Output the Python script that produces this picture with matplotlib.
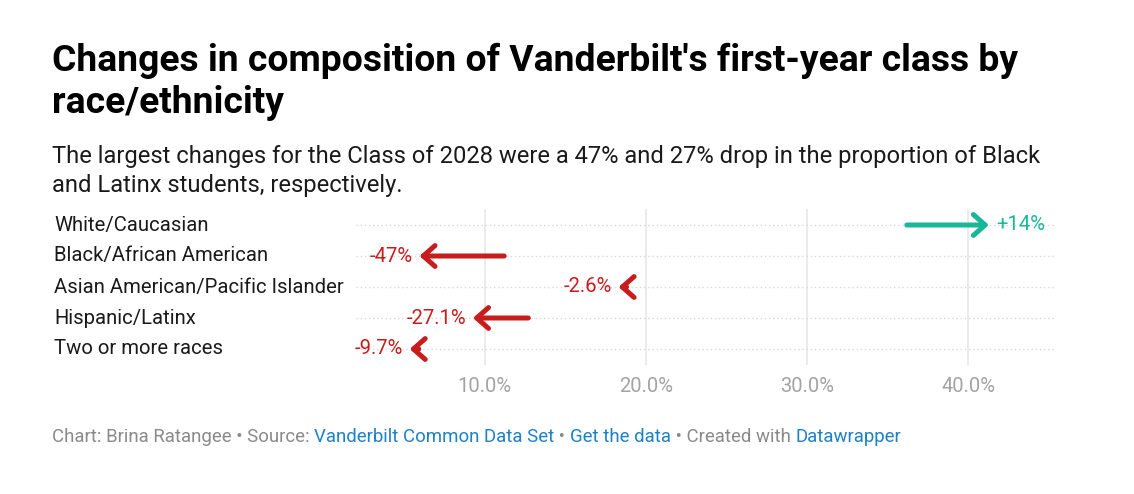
import matplotlib
matplotlib.use("Agg")
import matplotlib.pyplot as plt

categories = ["White/Caucasian", "Black/African American", "Asian American/Pacific Islander",
              "Hispanic/Latinx", "Two or more races"]
start_vals = [36.2, 11.2, 18.8, 12.7, 5.9]
end_vals = [41.3, 5.94, 18.3, 9.26, 5.33]
change_labels = ["+14%", "-47%", "-2.6%", "-27.1%", "-9.7%"]
xticks = [10, 20, 30, 40]
xtick_labels = ["10.0%", "20.0%", "30.0%", "40.0%"]

plt.rcParams['font.family'] = ['Roboto', 'DejaVu Sans']

W, H = 1134, 494
fig = plt.figure(figsize=(W / 100, H / 100), dpi=100)
fig.patch.set_facecolor("white")

def fy(px):
    return 1 - px / H

def fx(px):
    return px / W

UP = "#18b797"
DOWN = "#c71e1d"

fig.text(fx(52), fy(61), "Changes in composition of Vanderbilt's first-year class by",
         fontsize=26.8, fontweight="bold", color="#000000", va="center", ha="left")
fig.text(fx(52), fy(103), "race/ethnicity",
         fontsize=26.8, fontweight="bold", color="#000000", va="center", ha="left")
fig.text(fx(52), fy(157), "The largest changes for the Class of 2028 were a 47% and 27% drop in the proportion of Black",
         fontsize=17.1, color="#1a1a1a", va="center", ha="left")
fig.text(fx(52), fy(185), "and Latinx students, respectively.",
         fontsize=17.1, color="#1a1a1a", va="center", ha="left")

ax_left, ax_right = 356, 1055
ax_top, ax_bottom = 209.5, 364.5
ax = fig.add_axes([fx(ax_left), fy(ax_bottom), (ax_right - ax_left) / W, (ax_bottom - ax_top) / H])
ax.set_xlim(2.0, 45.4)
ax.set_ylim(len(categories) - 0.5, -0.5)
for s in ax.spines.values():
    s.set_visible(False)
ax.set_yticks([])
ax.set_xticks(xticks)
ax.set_xticklabels(xtick_labels, color="#a3a3a3", fontsize=14.5)
ax.tick_params(axis="x", length=0, pad=9)
for t in xticks:
    ax.axvline(t, color="#e5e5e5", lw=1.1, zorder=0)
for i in range(len(categories)):
    ax.axhline(i, color="#d8d8d8", lw=1, ls=(0, (1, 2)), zorder=0)

for i, (cat, s, e, lab) in enumerate(zip(categories, start_vals, end_vals, change_labels)):
    col = UP if e > s else DOWN
    ax.annotate("", xy=(e, i), xytext=(s, i),
                arrowprops=dict(arrowstyle="->,head_length=0.85,head_width=0.75",
                                mutation_scale=10,
                                color=col, lw=3.6, capstyle="round",
                                joinstyle="round", shrinkA=0, shrinkB=0))
    if e > s:
        ax.annotate(lab, xy=(e, i), xytext=(5, 0), textcoords="offset points",
                    ha="left", va="center", color=col, fontsize=14.6)
    else:
        ax.annotate(lab, xy=(e, i), xytext=(-5, 0), textcoords="offset points",
                    ha="right", va="center", color=col, fontsize=14.6)
    fig.text(fx(54), fy(ax_top + (i + 0.5) * (ax_bottom - ax_top) / len(categories)), cat,
             fontsize=14.6, color="#1a1a1a", va="center", ha="left")

# footer
parts = [("Chart: Brina Ratangee • Source: ", "#8a8a8a"),
         ("Vanderbilt Common Data Set", "#1d81c6"),
         (" • ", "#8a8a8a"),
         ("Get the data", "#1d81c6"),
         (" • Created with ", "#8a8a8a"),
         ("Datawrapper", "#1d81c6")]
fig.canvas.draw()
renderer = fig.canvas.get_renderer()
x = 52
for txt, c in parts:
    t = fig.text(fx(x), fy(437), txt, fontsize=13.4, color=c, va="center", ha="left")
    bb = t.get_window_extent(renderer=renderer)
    x += bb.width

fig.savefig("out.png", dpi=100, facecolor="white")
